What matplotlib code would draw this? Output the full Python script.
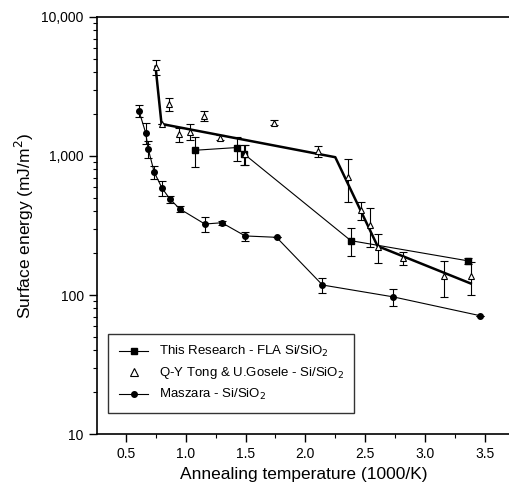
import numpy as np
import matplotlib
matplotlib.use('Agg')
import matplotlib.pyplot as plt
from matplotlib.lines import Line2D
from matplotlib.ticker import FuncFormatter, LogLocator, MultipleLocator

plt.rcParams['font.family'] = ['Liberation Sans', 'DejaVu Sans']

# This Research - FLA Si/SiO2
fla_x = [1.08, 1.425, 1.49, 2.38, 3.36]
fla_y = [1100, 1150, 1030, 246, 176]
fla_err = [260, 230, 170, 55, 10]

# Q-Y Tong & U.Gosele - Si/SiO2
tong_x = [0.748, 0.798, 0.862, 0.945, 1.037, 1.152, 1.285, 1.494, 1.736, 2.107,
          2.358, 2.469, 2.54, 2.603, 2.817, 3.157, 3.382]
tong_y = [4390, 1700, 2360, 1430, 1500, 1950, 1355, 1029, 1740, 1086,
          710, 409, 320, 223, 185, 136, 137]
tong_err = [550, 0, 250, 160, 200, 170, 60, 170, 80, 100,
            240, 60, 100, 52, 20, 40, 37]

# thick guide line through Tong data
fit_x = [0.748, 0.798, 2.25, 2.603, 3.382]
fit_y = [4390, 1700, 980, 225, 121]

# Maszara - Si/SiO2
msz_x = [0.609, 0.665, 0.687, 0.737, 0.803, 0.870, 0.951, 1.160, 1.302, 1.497,
         1.759, 2.143, 2.733, 3.460]
msz_y = [2118, 1472, 1122, 764, 586, 488, 416, 324, 331, 266,
         260, 118, 97, 71]
msz_err = [200, 250, 150, 80, 70, 30, 20, 40, 10, 20, 0, 15, 13, 0]

labels = ['This Research - FLA Si/SiO$_2$',
          'Q-Y Tong & U.Gosele - Si/SiO$_2$',
          'Maszara - Si/SiO$_2$']

fig = plt.figure(figsize=(5.1, 4.95), dpi=100)
ax = fig.add_axes([0.19, 0.1232, 0.81, 0.8425])

ek = dict(ecolor='black', elinewidth=0.8, capsize=3, capthick=0.8)

ax.plot(fit_x, fit_y, '-', color='black', lw=1.8, zorder=2)
ax.errorbar(fla_x, fla_y, yerr=fla_err, fmt='-s', color='black', ms=4, lw=0.8,
            zorder=3, **ek)
ax.errorbar(tong_x, tong_y, yerr=tong_err, fmt='^', color='black', mfc='white',
            ms=5, mew=0.8, zorder=4, **ek)
ax.errorbar(msz_x, msz_y, yerr=msz_err, fmt='-o', color='black', ms=4, lw=0.8,
            zorder=3, **ek)

ax.set_yscale('log')
ax.set_ylim(10, 10000)
ax.set_xlim(0.258, 3.71)
ax.xaxis.set_major_locator(MultipleLocator(0.5))
ax.xaxis.set_minor_locator(MultipleLocator(0.25))
ax.yaxis.set_major_locator(LogLocator(base=10))
ax.yaxis.set_minor_locator(LogLocator(base=10, subs=np.arange(2, 10)))
ax.yaxis.set_major_formatter(FuncFormatter(lambda v, p: '{:,.0f}'.format(v)))
ax.yaxis.set_minor_formatter(FuncFormatter(lambda v, p: ''))
ax.tick_params(which='major', direction='out', length=6, width=1, labelsize=10)
ax.tick_params(which='minor', direction='out', length=3, width=0.8)
ax.spines['right'].set_visible(False)
for s in ['left', 'bottom', 'top']:
    ax.spines[s].set_linewidth(1.2)

ax.set_xlabel('Annealing temperature (1000/K)', fontsize=12.5)
ax.set_ylabel('Surface energy (mJ/m$^2$)', fontsize=12.5)

handles = [Line2D([], [], color='black', lw=0.8, marker='s', ms=4),
           Line2D([], [], color='black', lw=0, marker='^', mfc='white', ms=6, mew=0.8),
           Line2D([], [], color='black', lw=0.8, marker='o', ms=4)]
leg = ax.legend(handles, labels, loc='lower left', bbox_to_anchor=(0.012, 0.035),
                fontsize=9.5, frameon=True, fancybox=False, edgecolor='black',
                handlelength=2.2, borderpad=0.8, labelspacing=0.45)
leg.get_frame().set_linewidth(1.0)

fig.savefig('out.png', dpi=100)
